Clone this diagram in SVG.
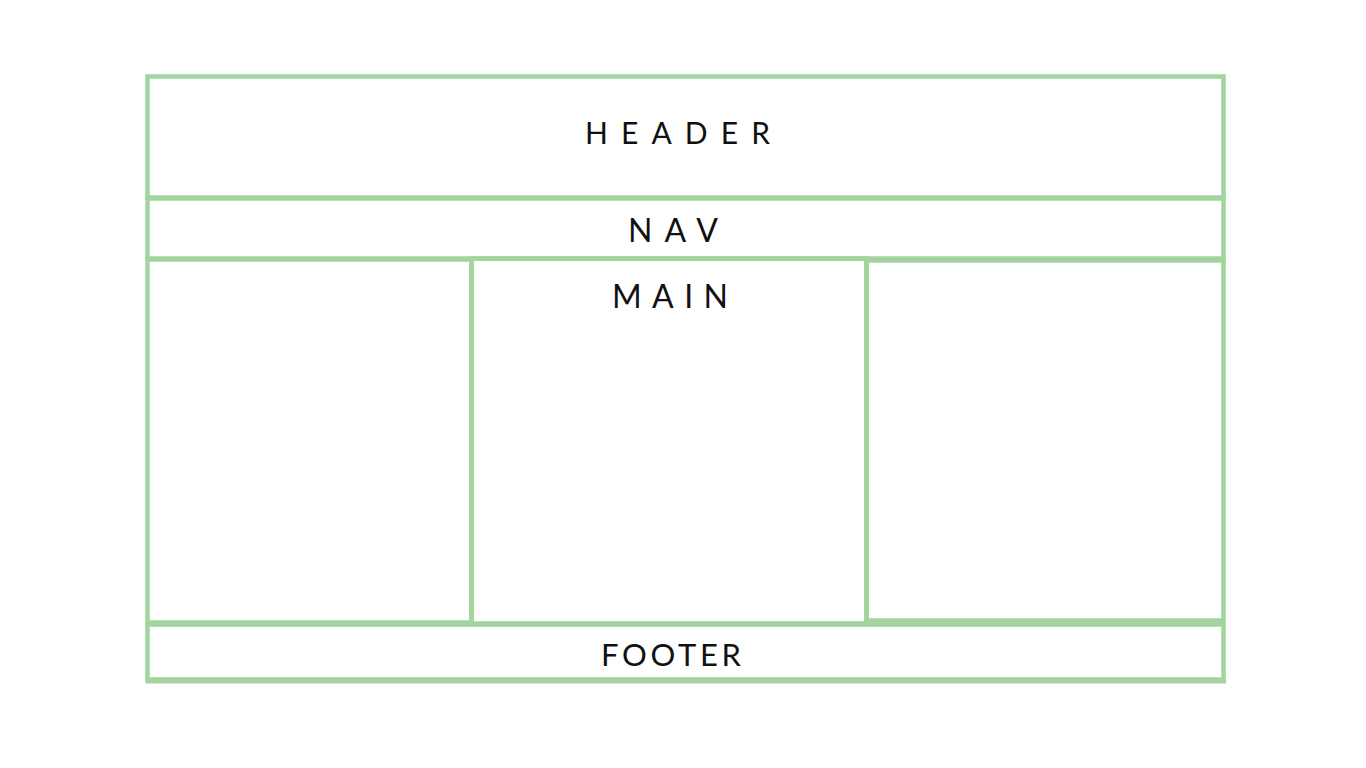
<svg xmlns="http://www.w3.org/2000/svg" width="1366" height="768" viewBox="0 0 1366 768">
<style>
.box{fill:none;stroke:#a3d49d;stroke-width:4.5}
.lbl{font-family:"Lato","Open Sans","Liberation Sans",sans-serif;font-weight:400;fill:#111;}
</style>
<rect width="1366" height="768" fill="#fff"/>
<g id="header"><rect class="box" x="147.5" y="76.5" width="1076" height="121"/>
<text class="lbl" x="585" y="144" font-size="30" textLength="185" lengthAdjust="spacing">HEADER</text></g>
<g id="nav"><rect class="box" x="147.5" y="198.5" width="1076" height="60"/>
<text class="lbl" x="628" y="242" font-size="32" textLength="90" lengthAdjust="spacing">NAV</text></g>
<g id="left"><rect class="box" x="147.5" y="259.5" width="324" height="363"/></g>
<g id="main"><rect class="box" x="471.5" y="258.5" width="395" height="365"/>
<text class="lbl" x="612" y="308" font-size="32" textLength="116" lengthAdjust="spacing">MAIN</text></g>
<g id="right"><rect class="box" x="866.5" y="260.5" width="357" height="360"/></g>
<g id="footer"><rect class="box" x="147.5" y="624.5" width="1076" height="55"/>
<line x1="145.5" y1="681" x2="1226" y2="681" stroke="#a3d49d" stroke-width="5"/>
<text class="lbl" x="601" y="666" font-size="31" textLength="140" lengthAdjust="spacing">FOOTER</text></g>
</svg>
